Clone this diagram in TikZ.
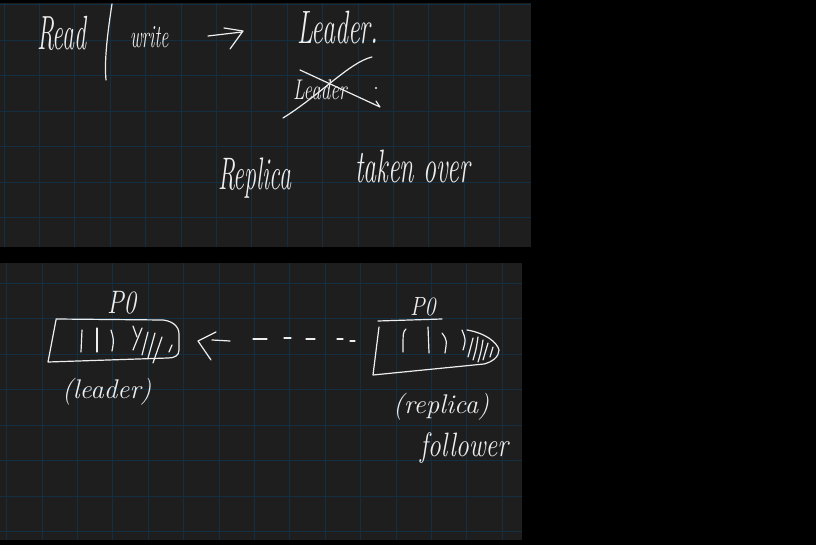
\documentclass[tikz,border=0pt]{standalone}
\usetikzlibrary{arrows.meta}
\definecolor{bgpanel}{RGB}{30,30,30}
\definecolor{gridc}{RGB}{20,46,66}
\definecolor{ink}{RGB}{238,238,238}
\newcommand{\hwtext}[3]{{\fontsize{#1}{#1}\selectfont\itshape\scalebox{1}[#2]{#3}}}
\begin{document}
\begin{tikzpicture}[x=1pt,y=-1pt,
  pen/.style={draw=ink,line width=1.2pt,line cap=round,line join=round},
  gridline/.style={draw=gridc,line width=0.8pt},
  hw/.style={text=ink,inner sep=0pt,outer sep=0pt,anchor=base west}]
\fill[black] (0,0) rectangle (816,545);
\useasboundingbox (0,0) rectangle (816,545);
% panels
\fill[bgpanel] (0,3) rectangle (531,247);
\fill[bgpanel] (0,263) rectangle (522,540);
\begin{scope}
\clip (0,3) rectangle (531,247);
\foreach \i in {0,...,15} \draw[gridline] ({4+35.4*\i},3) -- ({4+35.4*\i},247);
\foreach \j in {0,...,7} \draw[gridline] (0,{4.5+35.5*\j}) -- (531,{4.5+35.5*\j});
\end{scope}
\begin{scope}
\clip (0,263) rectangle (522,540);
\foreach \i in {0,...,15} \draw[gridline] ({6.5+35.4*\i},263) -- ({6.5+35.4*\i},540);
\foreach \j in {0,...,8} \draw[gridline] (0,{247.5+35.5*\j}) -- (522,{247.5+35.5*\j});
\end{scope}
% ---------- top panel ----------
\node[hw] (read) at (37,50) {\hwtext{24}{2.0}{Read}};
\draw[pen] (112,4) .. controls (108,30) and (104,60) .. (106,80);
\node[hw] (write) at (130,48) {\hwtext{18}{1.8}{write}};
\coordinate (arrS) at (208,36);
\coordinate (arrE) at (242,32);
\draw[pen] (arrS) -- (arrE);
\draw[pen] (224,28) -- (243,31) -- (230,49);
\node[hw] (leader) at (297,44) {\hwtext{26}{1.8}{Leader.}};
\node[hw] (oldleader) at (293,100) {\hwtext{19}{1.5}{Leader}};
\fill[ink] (376,88) circle (1.2);
\draw[pen] (283,118) .. controls (320,95) and (350,62) .. (372,57);
\draw[pen] (300,70) -- (380,107) -- (376,101);
\node[hw] (replica) at (218,190) {\hwtext{24}{1.9}{Replica}};
\node[hw] (taken) at (355,183) {\hwtext{26}{1.8}{taken over}};
% ---------- bottom panel ----------
% left partition (leader)
\node[hw] (p0l) at (107,313) {\hwtext{25}{1.3}{P0}};
\draw[pen] (56,319) -- (163,320) .. controls (172,321) and (179,326) .. (179,334) -- (179,350)
  .. controls (179,356) and (174,358) .. (168,358) -- (48,362) -- (56,320);
\draw[pen] (82,330) -- (81,352);
\draw[pen] (97,328) -- (97,352);
\draw[pen] (111,330) .. controls (114,340) .. (112,351);
\draw[pen] (133,326) -- (137,337);
\draw[pen] (142,328) -- (133,350);
\draw[pen] (148,332) -- (142,355);
\draw[pen] (155,333) -- (148,358);
\draw[pen] (162,337) -- (153,363);
\draw[pen] (172,345) -- (169,352);
\node[hw] (leaderlbl) at (62,398) {\hwtext{27}{1}{(leader)}};
% right partition (replica)
\node[hw] (p0r) at (410,315) {\hwtext{22}{1.2}{P0}};
\draw[pen] (378,321) -- (442,319);
\draw[pen] (379,327) -- (373,375) -- (484,364) .. controls (492,362) and (499,357) .. (499,350)
  .. controls (497,342) and (485,333) .. (467,330);
\draw[pen] (406,329) .. controls (403,332) .. (403,352);
\draw[pen] (428,327) -- (429,353);
\draw[pen] (442,333) .. controls (447,340) .. (445,353);
\draw[pen] (462,330) .. controls (466,340) .. (463,350);
\draw[pen] (473,338) .. controls (471,346) .. (468,357);
\draw[pen] (478,337) .. controls (476,350) .. (473,360);
\draw[pen] (483,340) .. controls (481,352) .. (478,362);
\draw[pen] (488,343) .. controls (486,352) .. (483,360);
\draw[pen] (493,347) .. controls (492,352) .. (490,357);
\node[hw] (replicalbl) at (393,413) {\hwtext{27}{1}{(replica)}};
\node[hw] (follower) at (420,456) {\hwtext{26}{1.3}{follower}};
% replication arrow (follower -> leader)
\coordinate (tipL) at (198,341);
\draw[pen] (216,332) -- (tipL) -- (211,360);
\draw[pen] (212,340) -- (230,341);
\draw[pen] (253,339) -- (267,339);
\draw[pen] (284,338) -- (291,338);
\draw[pen] (306,339) -- (315,339);
\draw[pen] (337,339) -- (343,339);
\draw[pen] (350,341) -- (355,341);
\end{tikzpicture}
\end{document}
